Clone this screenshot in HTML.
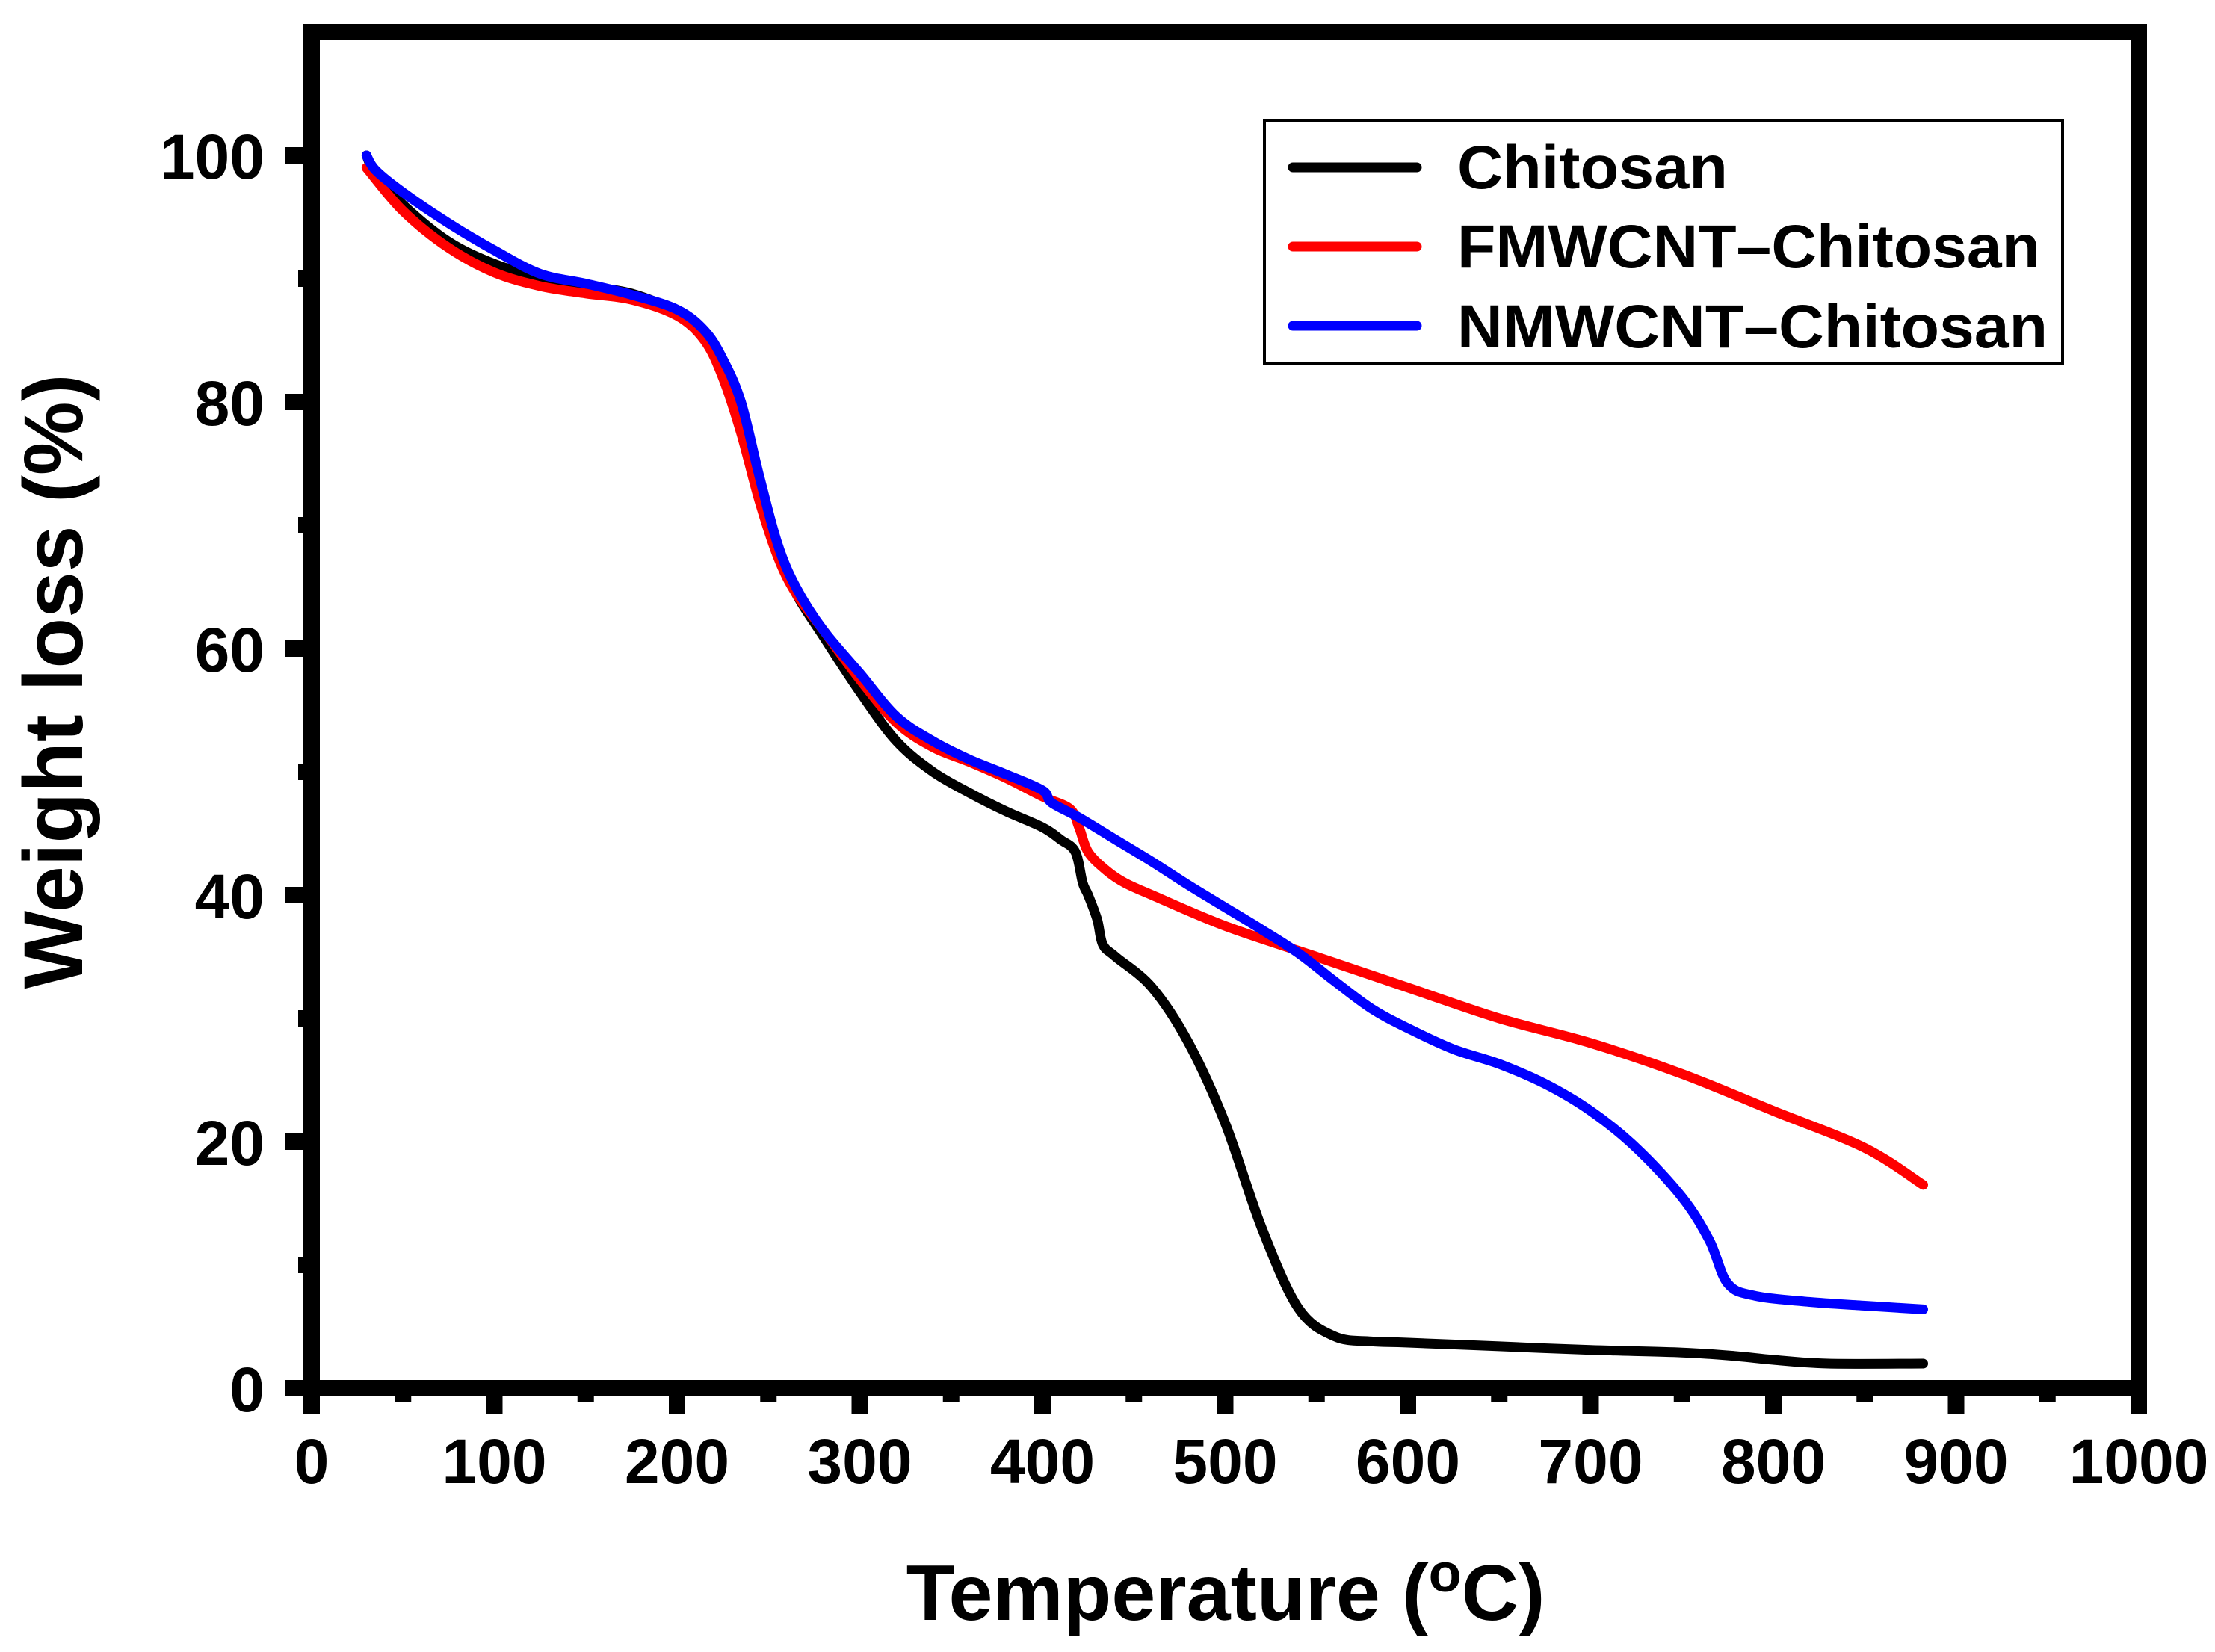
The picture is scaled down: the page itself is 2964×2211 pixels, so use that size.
<!DOCTYPE html>
<html><head><meta charset="utf-8"><style>
html,body{margin:0;padding:0;background:#fff;}
svg{display:block;font-family:"Liberation Sans",Arial,sans-serif;font-weight:bold;}
</style></head><body>
<svg id="chart" width="2964" height="2211" viewBox="0 0 2964 2211" xmlns="http://www.w3.org/2000/svg">
<rect x="0" y="0" width="2964" height="2211" fill="#fff"/>
<g id="ticks"></g>
<g id="series"></g>
<rect x="417" y="43" width="2445" height="1815" fill="none" stroke="#000" stroke-width="22"/>
<g>
<rect x="1692" y="161" width="1068" height="325" fill="#fff" stroke="#000" stroke-width="4"/>
<line x1="1730" y1="224" x2="1896" y2="224" stroke="#000" stroke-width="13" stroke-linecap="round"/>
<text x="1950" y="252" font-size="82" textLength="362" lengthAdjust="spacingAndGlyphs">Chitosan</text>
<line x1="1730" y1="330" x2="1896" y2="330" stroke="#ff0000" stroke-width="13" stroke-linecap="round"/>
<text x="1950" y="358" font-size="82" textLength="780" lengthAdjust="spacingAndGlyphs">FMWCNT–Chitosan</text>
<line x1="1730" y1="436" x2="1896" y2="436" stroke="#0000ff" stroke-width="13" stroke-linecap="round"/>
<text x="1950" y="465" font-size="82" textLength="790" lengthAdjust="spacingAndGlyphs">NMWCNT–Chitosan</text>
</g>
<text x="1640" y="2168" font-size="106" text-anchor="middle">Temperature (<tspan dy="-38" font-size="72">o</tspan><tspan dy="38">C)</tspan></text>
<text transform="translate(110,912) rotate(-90)" font-size="112" text-anchor="middle" textLength="823" lengthAdjust="spacingAndGlyphs">Weight loss (%)</text>
</svg>
<script>
const xTicks=[0,100,200,300,400,500,600,700,800,900,1000];
const yTicks=[0,20,40,60,80,100];
const chitosanT=[30,35,50,75,100,125,150,175,200,215,225,235,245,255,265,280,300,320,340,360,380,400,410,418,422,425,430,433,440,460,480,500,520,540,560,580,600,650,700,750,780,800,830,882];
const chitosanW=[100,98.5,96,93,91.2,90.1,89.4,88.8,87.3,85.5,83,79,73,68,64.5,61,56.5,52.5,50,48.3,46.8,45.5,44.5,43.5,41,40,38,36,35,32.5,28,21.5,13,6.5,4.2,3.8,3.7,3.4,3.1,2.9,2.6,2.3,2.0,2.0];
const fmwT=[30,50,75,100,125,150,175,200,215,225,235,245,255,265,280,300,320,340,360,380,400,415,420,425,435,445,460,500,550,600,650,700,750,800,850,882];
const fmwW=[99,95.5,92.5,90.5,89.4,88.8,88.3,87,85,82,77.5,72,67.5,64.5,61.5,57.5,54,52,50.8,49.5,48,47,45.5,43.5,42,41,40,37.5,35,32.5,30,28,25.5,22.5,19.5,16.5];
const nmwT=[30,35,50,75,100,125,150,175,200,215,225,235,245,255,265,280,300,320,340,360,380,400,405,420,440,460,480,500,520,540,560,580,600,625,650,675,700,725,750,765,775,790,820,850,882];
const nmwW=[100,98.8,97,94.5,92.3,90.4,89.6,88.7,87.5,85.8,83.5,80,74,68.5,65,61.5,58,54.5,52.5,51,49.8,48.5,47.5,46.3,44.5,42.7,40.8,39,37.2,35.3,33,30.8,29.2,27.5,26.3,24.7,22.5,19.5,15.5,12,8.5,7.5,7,6.7,6.4];
const NS="http://www.w3.org/2000/svg";
const sx=v=>417+v*2.445;
const sy=v=>1858-v*16.5;
const tg=document.getElementById('ticks');
function mk(tag,attrs,parent){const e=document.createElementNS(NS,tag);for(const k in attrs)e.setAttribute(k,attrs[k]);parent.appendChild(e);return e;}
xTicks.forEach((v,i)=>{
  const t=mk('line',{x1:sx(v),x2:sx(v),y1:1858,y2:1893,stroke:'#000','stroke-width':22},tg);
  
  
  const l=mk('text',{x:sx(v),y:1985,'font-size':84,'text-anchor':'middle'},tg);
  l.textContent=v;
  
  
  if(i<xTicks.length-1){
    const m=mk('line',{x1:sx(v+50),x2:sx(v+50),y1:1858,y2:1876,stroke:'#000','stroke-width':22},tg);
    
    
  }
});
yTicks.forEach((v,i)=>{
  const t=mk('line',{x1:381,x2:417,y1:sy(v),y2:sy(v),stroke:'#000','stroke-width':22},tg);
  
  
  const l=mk('text',{x:354,y:sy(v)+31,'font-size':84,'text-anchor':'end'},tg);
  l.textContent=v;
  
  
  if(i<yTicks.length-1){
    const m=mk('line',{x1:399,x2:417,y1:sy(v+10),y2:sy(v+10),stroke:'#000','stroke-width':22},tg);
    
    
  }
});
const sg=document.getElementById('series');
function draw(T,W,color,name){
  const P=T.map((t,i)=>[sx(t),sy(W[i])]);
  let d='M'+P[0][0].toFixed(1)+','+P[0][1].toFixed(1);
  for(let i=0;i<P.length-1;i++){
    const p0=P[Math.max(0,i-1)],p1=P[i],p2=P[i+1],p3=P[Math.min(P.length-1,i+2)];
    const c1x=p1[0]+(p2[0]-p0[0])/6,c1y=p1[1]+(p2[1]-p0[1])/6;
    const c2x=p2[0]-(p3[0]-p1[0])/6,c2y=p2[1]-(p3[1]-p1[1])/6;
    d+=' C'+c1x.toFixed(1)+','+c1y.toFixed(1)+' '+c2x.toFixed(1)+','+c2y.toFixed(1)+' '+p2[0].toFixed(1)+','+p2[1].toFixed(1);
  }
  const p=mk('path',{d:d,fill:'none',stroke:color,'stroke-width':13,'stroke-linejoin':'round','stroke-linecap':'round'},sg);
  
  
}
draw(chitosanT,chitosanW,'#000000','chitosan-line');
draw(fmwT,fmwW,'#ff0000','fmwcnt-chitosan-line');
draw(nmwT,nmwW,'#0000ff','nmwcnt-chitosan-line');
</script>
</body></html>
